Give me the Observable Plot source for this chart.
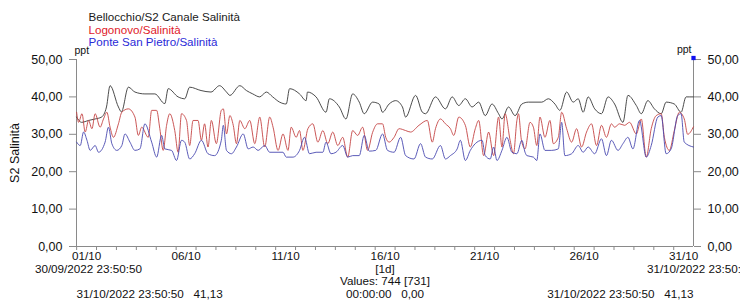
<!DOCTYPE html>
<html><head><meta charset="utf-8">
<script src="https://cdn.jsdelivr.net/npm/d3@7"></script>
<script src="https://cdn.jsdelivr.net/npm/@observablehq/plot@0.6"></script>
<style>
html,body{margin:0;padding:0;background:#fff;overflow:hidden;}
</style>
</head><body><div id="chart"></div>
<script>
// ---- data ----
const seriesNames = ["Bellocchio/S2 Canale Salinità", "Logonovo/Salinità", "Ponte San Pietro/Salinità"];
const legendColors = ["#1a1a1a", "#e0202a", "#2a2ad8"];
const lineColors = ["#383838", "#c44444", "#4848b0"];
const yTicks = [0, 10, 20, 30, 40, 50];
const xLabelDays = ["01/10", "06/10", "11/10", "16/10", "21/10", "26/10", "31/10"];
const unitLabel = "ppt";
const yTitle = "S2 Salinità";
const rangeStart = "30/09/2022 23:50:50";
const rangeEnd = "31/10/2022 23:50:50";
const intervalLabel = "[1d]";
const valuesLabel = "Values: 744 [731]";
const cursorLeft = "31/10/2022 23:50:50\u00a0\u00a0\u00a041,13";
const cursorMid = "00:00:00\u00a0\u00a0\u00a00,00";
const cursorRight = "31/10/2022 23:50:50\u00a0\u00a0\u00a041,13";

// [days since 01/10/2022 00:00, salinity ppt]
const bellocchio = [[0,34.6],[0.25,33.2],[0.6,33.7],[0.93,34.1],[1.25,34.6],[1.5,37.3],[1.68,43],[2.1,37.3],[2.25,36],[2.6,42.6],[2.93,41.3],[3.43,40.8],[3.93,40.8],[4.43,38.2],[4.6,42.2],[5.1,40],[5.43,39.5],[5.68,42.6],[6.25,41.7],[6.75,41.3],[7.18,43],[7.53,41.3],[7.7,40.4],[8.2,43],[8.53,41.7],[8.85,40.8],[9.2,40],[9.53,41.3],[9.85,40],[10.2,38.6],[10.53,38.1],[10.7,42.2],[11.2,40.8],[11.53,39],[11.6,41.3],[12.03,40],[12.53,35.9],[12.7,39.5],[13.2,37.3],[13.53,34.1],[13.87,40.8],[14.2,38.6],[14.45,35.5],[14.87,38.6],[15.2,38.1],[15.37,35.9],[15.7,38.1],[16.03,39],[16.37,37.3],[16.53,34.6],[17.03,40.4],[17.37,35.9],[17.53,35.5],[18.03,40],[18.53,36.8],[18.87,40],[19.2,37.7],[19.53,39.5],[19.87,37.3],[20.2,38.6],[20.53,35],[20.87,38.1],[21.2,35.5],[21.37,34.1],[21.7,37.3],[22.03,35],[22.37,38.1],[22.7,38.6],[23.03,38.6],[23.37,38.6],[23.7,39.5],[24.03,38.1],[24.28,36.4],[24.62,41.3],[24.95,38.6],[25.2,39.5],[25.45,35.9],[25.7,40],[26.03,36.8],[26.37,35.5],[26.7,40],[27.03,38.1],[27.45,33.2],[27.7,40.4],[28.12,37.7],[28.37,35.5],[28.7,39],[29.03,36.8],[29.37,35.5],[29.62,38.6],[30.03,38.1],[30.37,35.9],[30.62,40],[30.99,40]];
const logonovo = [[0,35.9],[0.1,33.2],[0.27,35.5],[0.43,30.6],[0.6,33.7],[0.77,31.5],[0.93,35.5],[1.18,31.9],[1.35,34.1],[1.52,35.9],[1.68,31.9],[1.85,29.2],[2.1,32.8],[2.27,35.9],[2.6,36.8],[2.93,34.6],[3.1,29.7],[3.27,31.9],[3.6,29.2],[3.77,36.4],[4.02,36.4],[4.18,31.5],[4.35,25.7],[4.52,32.4],[4.68,35.5],[4.93,31],[5.1,25.2],[5.27,35.5],[5.52,33.7],[5.68,27],[5.85,33.7],[6.1,33.7],[6.27,28.4],[6.43,32.8],[6.6,26.6],[6.77,33.7],[7.02,27.5],[7.27,36.4],[7.37,36.8],[7.53,30.1],[7.7,35],[7.87,32.4],[8.03,27.5],[8.2,33.7],[8.45,31.5],[8.7,33.7],[8.95,27.5],[9.2,34.6],[9.45,26.6],[9.7,34.6],[9.87,31.9],[10.12,25.7],[10.37,30.1],[10.62,25.7],[10.78,31.9],[11.03,29.2],[11.2,31],[11.37,25.7],[11.62,31.5],[11.87,32.8],[12.12,27.9],[12.37,31],[12.62,27.5],[12.87,30.6],[13.12,27],[13.37,29.2],[13.62,23.9],[13.87,31],[14.12,29.7],[14.37,31.9],[14.62,25.7],[14.87,30.5],[15.12,32.8],[15.37,32.8],[15.53,29.2],[15.7,27.9],[15.95,29.2],[16.2,31.5],[16.53,31],[16.78,30.6],[17.2,32.4],[17.62,33.7],[17.87,27.9],[18.03,31.5],[18.28,34.1],[18.53,32.8],[18.78,31.5],[18.95,29.7],[19.2,34.6],[19.53,32.4],[19.78,26.6],[20.03,31.5],[20.2,33.7],[20.45,24.3],[20.7,30.6],[20.95,24.3],[21.2,34.6],[21.37,26.6],[21.53,35.5],[21.78,28.4],[21.95,24.8],[22.12,33.7],[22.2,35.5],[22.35,28.4],[22.53,26.1],[22.78,33.2],[22.95,31.9],[23.12,27],[23.28,34.6],[23.53,29.2],[23.78,33.7],[23.95,27.5],[24.2,29.2],[24.37,35.9],[24.62,31.5],[24.87,27.9],[25.12,31.5],[25.37,26.6],[25.62,30.6],[25.87,32.8],[26.12,27],[26.37,32.4],[26.62,29.2],[26.87,32.8],[27.03,31.9],[27.28,32.8],[27.53,32.4],[27.78,33.2],[28.12,30.1],[28.37,34.1],[28.62,23.9],[28.87,31.5],[29.12,35],[29.37,35.5],[29.53,29.2],[29.78,25.7],[30.03,31],[30.28,35.9],[30.53,34.1],[30.7,30],[30.99,32]];
const ponteSanPietro = [[0,27.9],[0.18,27],[0.35,30.6],[0.52,28.4],[0.68,25.7],[0.93,27],[1.1,25.2],[1.43,27.9],[1.6,31.9],[1.77,27.5],[2.02,25.7],[2.27,27],[2.43,30.1],[2.68,27.9],[2.93,25.7],[3.18,26.1],[3.43,32.8],[3.77,27.9],[4.02,23.9],[4.27,29.7],[4.43,26.1],[4.77,25.7],[5.02,23],[5.27,28.4],[5.43,27.9],[5.68,23.4],[5.93,24.8],[6.27,28.4],[6.6,24.8],[6.93,24.3],[7.27,28.4],[7.37,32.4],[7.53,25.7],[7.78,24.8],[8.03,26.6],[8.37,30.1],[8.62,26.1],[8.87,26.6],[9.12,25.7],[9.45,27],[9.7,25.2],[10.12,25.2],[10.37,25.2],[10.53,23.9],[10.87,23.9],[11.2,25.7],[11.45,29.2],[11.7,24.8],[12.03,25.2],[12.37,25.2],[12.53,27.9],[12.78,24.8],[13.03,25.2],[13.37,27],[13.62,23.9],[13.87,24.3],[14.2,24.3],[14.45,29.7],[14.7,25.5],[15.03,25.7],[15.37,30.1],[15.62,25.7],[15.95,25.2],[16.28,29.2],[16.53,24.3],[16.95,23.4],[17.28,27.5],[17.53,23.9],[17.87,23.4],[18.28,27],[18.53,23.4],[18.78,24.3],[19.12,26.1],[19.28,28.4],[19.53,23],[19.78,25.7],[20.03,27.5],[20.37,28.4],[20.53,24.3],[20.78,23.4],[20.95,26.6],[21.12,23],[21.37,25.7],[21.62,29.2],[21.87,25.2],[22.12,24.8],[22.37,28.4],[22.53,25.2],[22.62,24.3],[22.95,23.9],[23.12,23],[23.28,30.1],[23.53,25.7],[23.87,25.7],[24.2,26.1],[24.37,33.2],[24.53,24.3],[24.87,24.8],[25.2,27],[25.45,25.2],[25.7,26.6],[26.03,24.8],[26.37,28.8],[26.62,24.3],[26.87,28.4],[27.2,25.7],[27.45,27.5],[27.7,29.2],[27.95,26.1],[28.28,33.7],[28.62,23.9],[28.87,27],[29.2,34.6],[29.37,35],[29.62,24.8],[29.87,26.1],[30.2,35],[30.37,35.5],[30.53,27.9],[30.99,26.6]];

// ---- build ----
const DAY = 86400000;
const t0 = Date.UTC(2022, 9, 1);
const parseStamp = d3.utcParse("%d/%m/%Y %H:%M:%S");
const xStart = parseStamp(rangeStart);
const xEnd = parseStamp(rangeEnd);
const toRows = (arr, name) => arr.map(([d, v]) => ({date: new Date(t0 + d * DAY), value: v, series: name}));
const allSeries = [bellocchio, logonovo, ponteSanPietro];
const rows = allSeries.flatMap((s, i) => toRows(s, seriesNames[i]));
const dailyTicks = d3.utcDay.range(new Date(t0), xEnd);
const labelDates = xLabelDays.map(s => { const [dd, mm] = s.split("/"); return new Date(Date.UTC(2022, +mm - 1, +dd, 12)); });
const labelMap = new Map(labelDates.map((d, i) => [+d, xLabelDays[i]]));
const fmt = d => d.toFixed(2).replace(".", ",");
const axisGray = "#8a8a8a";
const yMid = (d3.min(yTicks) + d3.max(yTicks)) / 2;
const footSize = 11.7;

const chart = Plot.plot({
  width: 740, height: 302,
  marginLeft: 76, marginRight: 47, marginTop: 59, marginBottom: 56,
  style: {fontFamily: "Arial, 'Liberation Sans', sans-serif", fontSize: "12.5px", color: "#111", background: "#fff", overflow: "hidden"},
  x: {type: "utc", domain: [xStart, xEnd]},
  y: {domain: [0, 50]},
  color: {domain: seriesNames, range: lineColors},
  marks: [
    Plot.axisY({anchor: "left", ticks: yTicks, tickSize: 7, tickPadding: 7, tickFormat: fmt, label: null, stroke: axisGray}),
    Plot.axisY({anchor: "right", ticks: yTicks, tickSize: 7, tickPadding: 7, tickFormat: fmt, label: null, stroke: axisGray}),
    Plot.axisX({ticks: dailyTicks, tickSize: 4, tickFormat: () => "", label: null, stroke: axisGray}),
    Plot.axisX({ticks: labelDates, tickSize: 0, tickPadding: 5, tickFormat: d => labelMap.get(+d), label: null, fontSize: footSize}),
    Plot.ruleY([0], {stroke: axisGray}),
    Plot.ruleX([xStart, xEnd], {y1: 0, y2: d3.max(yTicks), stroke: axisGray}),
    Plot.line(rows, {x: "date", y: "value", z: "series", stroke: "series", strokeWidth: 0.9, curve: "monotone-x"}),
    // legend
    ...seriesNames.map((n, i) => Plot.text([n], {frameAnchor: "top-left", dx: 12, dy: -46.5 + i * 12.4, textAnchor: "start", fill: legendColors[i], fontSize: 11.6})),
    Plot.text([unitLabel], {frameAnchor: "top-left", dx: -2, dy: -13, textAnchor: "start", fontSize: 10.5}),
    Plot.text([unitLabel], {frameAnchor: "top-right", dx: -2, dy: -14, textAnchor: "end", fontSize: 10.5}),
    Plot.dot([d3.max(yTicks)], {x: () => xEnd, y: d => d, symbol: "square", r: 2.4, fill: "#1010f0", stroke: "none", dy: -1.5}),
    Plot.text([yTitle], {x: () => xStart, y: () => yMid, dx: -62, rotate: -90, fontSize: 12.5}),
    // footer
    Plot.text([rangeStart], {frameAnchor: "bottom-left", dx: 12, dy: 26, textAnchor: "middle", fontSize: footSize}),
    Plot.text([intervalLabel], {frameAnchor: "bottom", dy: 26, fontSize: footSize}),
    Plot.text([rangeEnd], {frameAnchor: "bottom-right", dx: 7, dy: 26, textAnchor: "middle", fontSize: footSize}),
    Plot.text([valuesLabel], {frameAnchor: "bottom", dy: 38, fontSize: footSize}),
    Plot.text([cursorLeft], {frameAnchor: "bottom-left", dy: 51, textAnchor: "start", fontSize: footSize}),
    Plot.text([cursorMid], {frameAnchor: "bottom", dy: 51, fontSize: footSize}),
    Plot.text([cursorRight], {frameAnchor: "bottom-right", dy: 51, textAnchor: "end", fontSize: footSize})
  ]
});
document.getElementById("chart").append(chart);
</script>
</body></html>
